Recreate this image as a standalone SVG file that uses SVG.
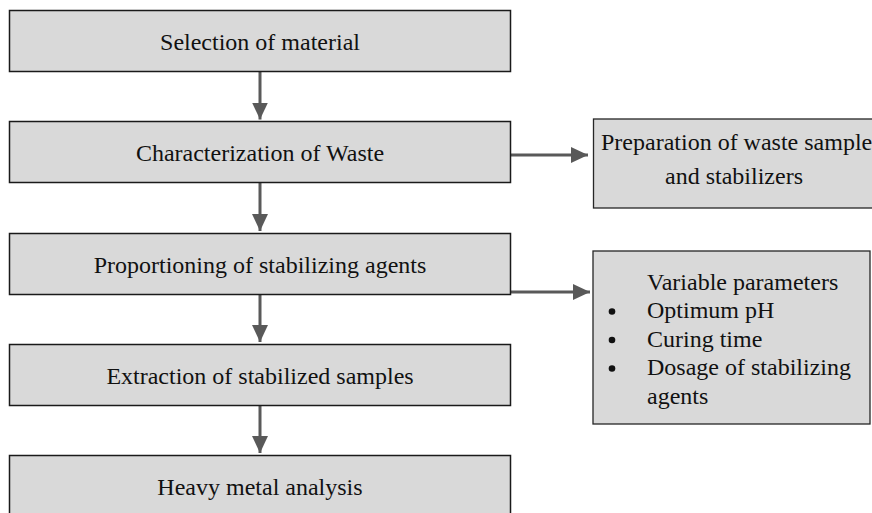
<svg xmlns="http://www.w3.org/2000/svg" width="872" height="513" viewBox="0 0 872 513">
<style>
.box{fill:#d9d9d9;stroke:#1a1a1a;stroke-width:1.5}
.rbox{fill:#d9d9d9;stroke:#262626;stroke-width:1.3}
.t{font-family:"Liberation Serif","Times New Roman",serif;font-size:24px;fill:#111}
.c{text-anchor:middle}
.line{stroke:#595959;stroke-width:3;fill:none}
</style>
<defs>
<marker id="ah" markerUnits="userSpaceOnUse" markerWidth="18" markerHeight="18" refX="17" refY="8" orient="auto">
<path d="M0,0 L17,8 L0,16 Z" fill="#595959"/>
</marker>
</defs>
<rect width="872" height="513" fill="#fff"/>
<g id="connectors">
<line class="line" x1="260" y1="72" x2="260" y2="119.5" marker-end="url(#ah)"/>
<line class="line" x1="260" y1="183" x2="260" y2="231" marker-end="url(#ah)"/>
<line class="line" x1="260" y1="295" x2="260" y2="342" marker-end="url(#ah)"/>
<line class="line" x1="260" y1="406" x2="260" y2="453" marker-end="url(#ah)"/>
<line class="line" x1="511" y1="155" x2="588" y2="155" marker-end="url(#ah)"/>
<line class="line" x1="511" y1="292" x2="590" y2="292" marker-end="url(#ah)"/>
</g>
<g id="n1"><rect class="box" x="9.5" y="10.5" width="501" height="61"/><text class="t c" x="260" y="50">Selection of material</text></g>
<g id="n2"><rect class="box" x="9.5" y="121.5" width="501" height="61"/><text class="t c" x="260" y="161">Characterization of Waste</text></g>
<g id="n3"><rect class="box" x="9.5" y="233.5" width="501" height="61"/><text class="t c" x="260" y="273">Proportioning of stabilizing agents</text></g>
<g id="n4"><rect class="box" x="9.5" y="344.5" width="501" height="61"/><text class="t c" x="260" y="384">Extraction of stabilized samples</text></g>
<g id="n5"><rect class="box" x="9.5" y="455.5" width="501" height="70"/><text class="t c" x="260" y="495">Heavy metal analysis</text></g>
<g id="n6"><rect class="rbox" x="593.5" y="119" width="300" height="89"/><text class="t" x="601" y="150">Preparation of waste sample</text><text class="t c" x="734" y="183.5">and stabilizers</text></g>
<g id="n7"><rect class="rbox" x="593" y="251" width="277" height="173"/>
<text class="t" x="647" y="289.5">Variable parameters</text>
<circle cx="612" cy="311.5" r="3.3" fill="#111"/><text class="t" x="647" y="318">Optimum pH</text>
<circle cx="612" cy="340" r="3.3" fill="#111"/><text class="t" x="647" y="346.5">Curing time</text>
<circle cx="612" cy="368.5" r="3.3" fill="#111"/><text class="t" x="647" y="375">Dosage of stabilizing</text>
<text class="t" x="647" y="403.5">agents</text>
</g>
</svg>
